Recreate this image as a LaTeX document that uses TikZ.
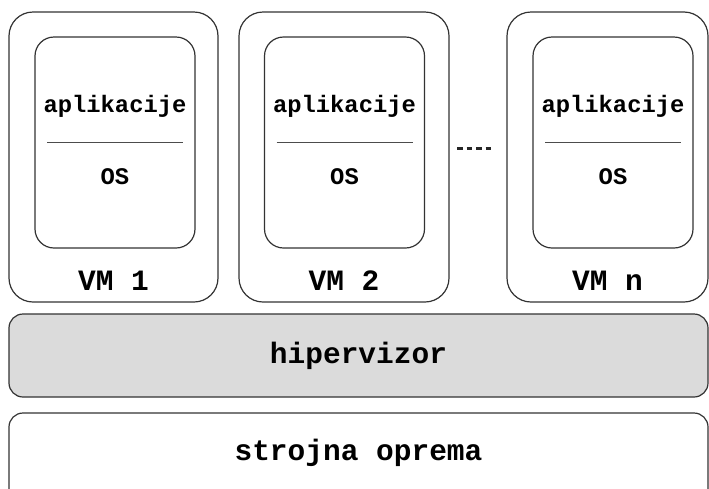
\documentclass[tikz,border=0pt]{standalone}
\usepackage{fontspec}
\newfontfamily\monob{Liberation Mono}
\usetikzlibrary{calc}
\tikzset{
  frame/.style={draw=black!80, line width=1.2pt, rectangle, inner sep=0pt},
  vmbox/.style={frame, rounded corners=24pt, minimum height=290pt},
  osbox/.style={frame, rounded corners=19pt, minimum width=160pt, minimum height=211pt},
  layer/.style={frame, rounded corners=14pt, minimum width=699pt},
  txt/.style={font=\monob\bfseries\fontsize{23.8}{28}\selectfont, inner sep=0pt},
  bigtxt/.style={font=\monob\bfseries\fontsize{29.5}{34}\selectfont, inner sep=0pt},
  sep/.style={draw=black!70, line width=1pt}
}
\newcommand{\vmstack}[5]{%
  % #1 name, #2 outer centre x, #3 outer width, #4 inner centre x, #5 label
  \node[vmbox, minimum width=#3pt] (#1) at (#2,157) {};
  \node[osbox] (#1in) at (#4,142.5) {};
  \node[txt] (#1app) at (#4,106) {aplikacije};
  \node[txt] (#1os) at (#4,177) {OS};
  \coordinate (#1sl) at ($(#1in.center)+(-68,-0.5)$);
  \coordinate (#1sr) at ($(#1in.center)+(68,-0.5)$);
  \draw[sep] (#1sl) -- (#1sr);
  \node[bigtxt] (#1lbl) at (#2,281) {#5};
}
\begin{document}
\begin{tikzpicture}[x=1pt,y=-1pt]
  \useasboundingbox (0,0) rectangle (709,488);
  \begin{scope}
    \clip (0,0) rectangle (709,488);
    \vmstack{vmA}{113.5}{209}{115}{VM 1}
    \vmstack{vmB}{344}{210}{344.5}{VM 2}
    \vmstack{vmN}{607.5}{201}{613}{VM n}
    % ellipsis between the machines
    \coordinate (dotsL) at (457,148);
    \coordinate (dotsR) at (492,148);
    \draw[line width=3pt, dash pattern=on 5.5pt off 4pt, black!85] (dotsL) -- (dotsR);
    % hypervisor and hardware layers
    \node[layer, fill=black!14, minimum height=83pt] (hyp) at (358.5,355.5) {};
    \node[bigtxt] (hyptxt) at (hyp.center) {hipervizor};
    \node[layer, minimum height=90pt] (hw) at (358.5,458) {};
    \node[bigtxt] (hwtxt) at (358.5,453) {strojna oprema};
  \end{scope}
\end{tikzpicture}
\end{document}
